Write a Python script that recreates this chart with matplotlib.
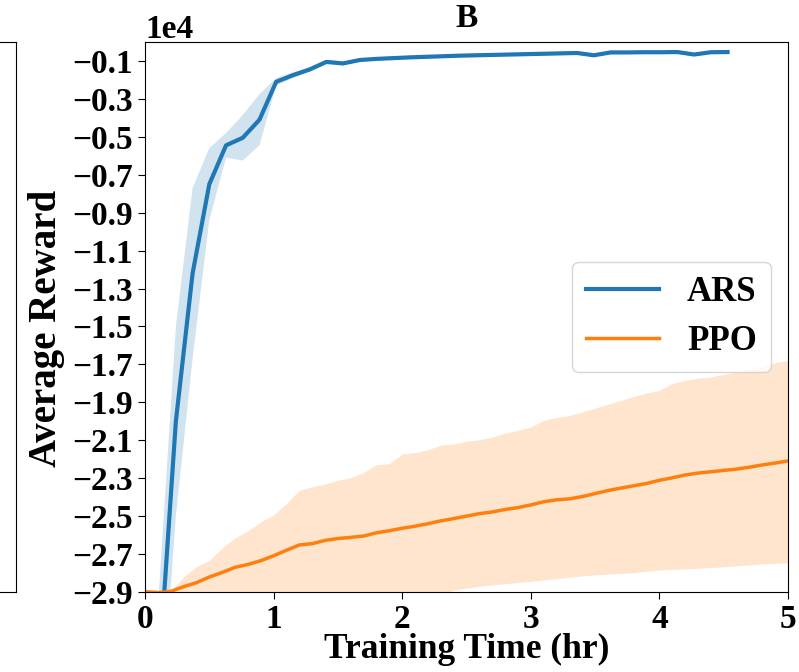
import numpy as np
import matplotlib
matplotlib.use("Agg")
import matplotlib.pyplot as plt

# ARS reward (units of 1e4), sparse evaluations
ars_time = [0.11, 0.24, 0.37, 0.50, 0.63, 0.76, 0.89, 1.02, 1.15, 1.28, 1.41, 1.54,
            1.67, 1.80, 1.93, 2.06, 2.19, 2.32, 2.45, 2.58, 2.71, 2.84, 2.97, 3.10,
            3.23, 3.36, 3.49, 3.62, 3.75, 3.88, 4.01, 4.14, 4.27, 4.40, 4.53]
ars_mean = [-3.30, -2.00, -1.22, -0.75, -0.545, -0.505, -0.41, -0.21, -0.175, -0.145,
            -0.105, -0.113, -0.095, -0.089, -0.085, -0.081, -0.078, -0.075, -0.072,
            -0.070, -0.068, -0.066, -0.064, -0.062, -0.060, -0.058, -0.070, -0.055,
            -0.055, -0.054, -0.054, -0.053, -0.066, -0.054, -0.053]
ars_std = [0.42, 0.50, 0.45, 0.19, 0.065, 0.12, 0.135, 0.02, 0.015, 0.012, 0.01, 0.01,
           0.008, 0.008, 0.008, 0.008, 0.008, 0.008, 0.008, 0.008, 0.008, 0.008, 0.008,
           0.008, 0.008, 0.008, 0.008, 0.008, 0.008, 0.008, 0.008, 0.008, 0.008, 0.008,
           0.008]

# PPO reward (units of 1e4)
ppo_time = [0.0, 0.1, 0.2, 0.3, 0.4, 0.5, 0.6, 0.7, 0.8, 0.9, 1.0, 1.1, 1.2, 1.3, 1.4,
            1.5, 1.6, 1.7, 1.8, 1.9, 2.0, 2.1, 2.2, 2.3, 2.4, 2.5, 2.6, 2.7, 2.8, 2.9,
            3.0, 3.1, 3.2, 3.3, 3.4, 3.5, 3.6, 3.7, 3.8, 3.9, 4.0, 4.1, 4.2, 4.3, 4.4,
            4.5, 4.6, 4.7, 4.8, 4.9, 5.0]
ppo_mean = [-2.898, -2.903, -2.897, -2.872, -2.851, -2.821, -2.797, -2.770, -2.755,
            -2.735, -2.709, -2.680, -2.652, -2.645, -2.628, -2.618, -2.612, -2.605,
            -2.588, -2.577, -2.564, -2.553, -2.540, -2.525, -2.513, -2.500, -2.487,
            -2.478, -2.465, -2.455, -2.441, -2.424, -2.414, -2.409, -2.397, -2.381,
            -2.365, -2.352, -2.340, -2.328, -2.311, -2.298, -2.283, -2.273, -2.266,
            -2.259, -2.252, -2.242, -2.230, -2.220, -2.209]
ppo_upper = [-2.898, -2.900, -2.895, -2.820, -2.766, -2.733, -2.668, -2.614, -2.578,
             -2.530, -2.494, -2.433, -2.363, -2.345, -2.330, -2.310, -2.297, -2.270,
             -2.229, -2.223, -2.172, -2.165, -2.150, -2.126, -2.120, -2.105, -2.097,
             -2.083, -2.062, -2.048, -2.030, -1.995, -1.980, -1.970, -1.950, -1.930,
             -1.910, -1.890, -1.869, -1.851, -1.837, -1.800, -1.784, -1.773, -1.766,
             -1.752, -1.739, -1.725, -1.712, -1.690, -1.679]
ppo_lower = [-2.898, -2.905, -2.905, -2.92, -2.94, -2.95, -2.96, -2.96, -2.96, -2.96,
             -2.96, -2.96, -2.96, -2.96, -2.96, -2.96, -2.96, -2.96, -2.96, -2.96,
             -2.95, -2.95, -2.94, -2.92, -2.89, -2.880, -2.870, -2.863, -2.856, -2.850,
             -2.844, -2.837, -2.829, -2.822, -2.815, -2.810, -2.806, -2.803, -2.798,
             -2.791, -2.784, -2.781, -2.778, -2.775, -2.771, -2.767, -2.762, -2.757,
             -2.752, -2.749, -2.746]

yticks = [-0.1, -0.3, -0.5, -0.7, -0.9, -1.1, -1.3, -1.5, -1.7, -1.9, -2.1, -2.3,
          -2.5, -2.7, -2.9]

plt.rcParams['font.family'] = ['Liberation Serif', 'DejaVu Serif']
plt.rcParams['font.weight'] = 'bold'
plt.rcParams['axes.labelweight'] = 'bold'
plt.rcParams['axes.titleweight'] = 'bold'

scale = 1e4
fig = plt.figure(figsize=(7.99, 6.72), dpi=100)

# edge of the neighbouring panel (cropped)
ax0 = fig.add_axes([-0.3, 1 - 592 / 672, 0.3 + 16 / 799, 550 / 672])
ax0.set_xticks([])
ax0.set_yticks([])

ax = fig.add_axes([145 / 799, 1 - 592 / 672, 643 / 799, 550 / 672])

ars_t = np.array(ars_time)
ars_m = np.array(ars_mean) * scale
ars_s = np.array(ars_std) * scale
ax.plot(ars_t, ars_m, color='#1f77b4', lw=3, label='ARS')
ax.fill_between(ars_t, ars_m - ars_s, ars_m + ars_s, color='#1f77b4', alpha=0.2, lw=0)

ppo_t = np.array(ppo_time)
ax.plot(ppo_t, np.array(ppo_mean) * scale, color='#ff7f0e', lw=2.5, label='PPO')
ax.fill_between(ppo_t, np.array(ppo_lower) * scale, np.array(ppo_upper) * scale,
                color='#ff7f0e', alpha=0.2, lw=0)

ax.set_xlim(0, 5)
ax.set_ylim(-2.9 * scale, 0)
ax.set_xticks([0, 1, 2, 3, 4, 5])
ax.set_yticks(np.array(yticks) * scale)
ax.ticklabel_format(axis='y', style='sci', scilimits=(4, 4))
ax.tick_params(labelsize=24, length=5)
ax.yaxis.get_offset_text().set_fontsize(24)
ax.yaxis.get_offset_text().set_fontweight('bold')

ax.set_title('B', fontsize=24, y=1.027, pad=0)
ax.set_xlabel('Training Time (hr)', fontsize=25.5, labelpad=-1)
ax.set_ylabel('Average Reward', fontsize=28)
ax.yaxis.set_label_coords(-0.124, 0.48)

ax.legend(loc='center right', fontsize=25, handlelength=2.1, labelspacing=0.45,
          handletextpad=0.8, borderaxespad=0.5)

fig.savefig('out.png', dpi=100)
